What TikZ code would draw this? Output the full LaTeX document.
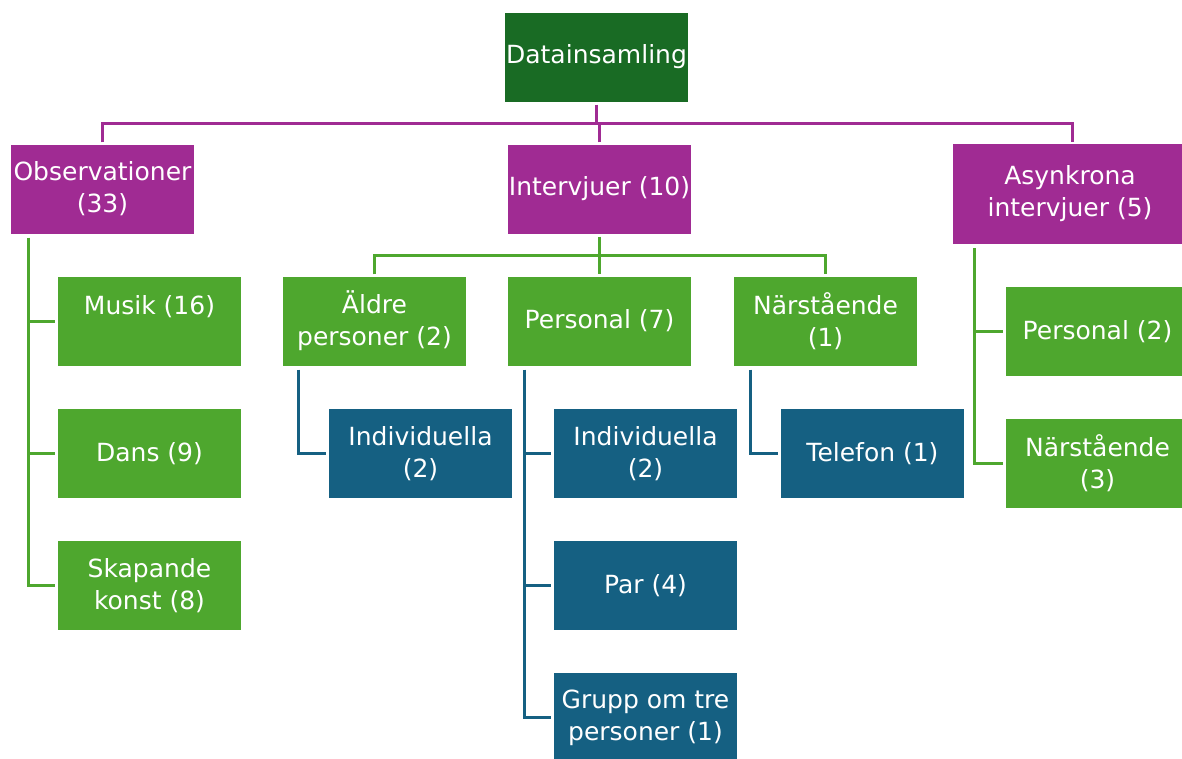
\documentclass[tikz,border=0pt]{standalone}
\usepackage{fontspec}
\setmainfont{DejaVu Sans}
\definecolor{dgreen}{HTML}{196B24}
\definecolor{purp}{HTML}{A02B93}
\definecolor{lgreen}{HTML}{4EA72E}
\definecolor{dblue}{HTML}{156082}
\tikzset{
  box/.style={rectangle, text=white, align=center, inner sep=0pt,
    minimum width=183pt, minimum height=89pt,
    font=\fontsize{25}{32}\selectfont},
  topbox/.style={box, fill=dgreen},
  catbox/.style={box, fill=purp},
  subbox/.style={box, fill=lgreen},
  leafbox/.style={box, fill=dblue},
  pline/.style={draw=purp, line width=3pt},
  gline/.style={draw=lgreen, line width=3pt},
  bline/.style={draw=dblue, line width=3pt},
}
\begin{document}
\begin{tikzpicture}[x=1pt,y=-1pt]
\useasboundingbox (0,0) rectangle (1182,758);
\clip (0,0) rectangle (1182,758);
% top
\node[topbox] (D) at (596.5,57) {Datainsamling};
% categories
\node[catbox] (Obs) at (102.5,189) {Observationer\\(33)};
\node[catbox] (Int) at (599.5,189) {Intervjuer (10)};
\node[catbox, minimum width=234pt, minimum height=100pt] (Asy) at (1070,194) {Asynkrona\\intervjuer (5)};
% observation children
\node[subbox] (Mus) at (149.5,321) {Musik (16)\\ \mbox{}};
\node[subbox] (Dans) at (149.5,453.5) {Dans (9)};
\node[subbox] (Skap) at (149.5,585.5) {Skapande\\konst (8)};
% interview children
\node[subbox] (Ald) at (374.5,321) {Äldre\\personer (2)};
\node[subbox] (Per) at (599.5,321) {Personal (7)};
\node[subbox] (Nar) at (825.5,321) {Närstående\\(1)};
% leaves
\node[leafbox] (IndA) at (420.5,453.5) {Individuella\\(2)};
\node[leafbox] (IndB) at (645.5,453.5) {Individuella\\(2)};
\node[leafbox] (Par) at (645.5,585.5) {Par (4)};
\node[leafbox, minimum height=90pt] (Grp) at (645.5,718) {Grupp om tre\\personer (1)};
\node[leafbox] (Tel) at (872.5,453.5) {Telefon (1)};
% asynchronous children
\node[subbox] (PerB) at (1097.5,331.5) {Personal (2)};
\node[subbox] (NarB) at (1097.5,463.5) {Närstående\\(3)};

% top connectors
\coordinate (bus) at (597,123);
\draw[pline] ([yshift=-3pt]D.south) -- (D.south |- bus);
\draw[pline] ([yshift=2pt]Obs.north) -- (Obs.north |- bus) -- ([xshift=2pt]Asy.north |- bus) -- ([xshift=2pt,yshift=2pt]Asy.north);
\draw[pline] ([yshift=2pt]Int.north) -- (Int.north |- bus);

% observation connectors
\coordinate (ob) at ([xshift=18pt,yshift=-4pt]Obs.south west);
\draw[gline] (ob) |- ([xshift=-3pt]Skap.west);
\draw[gline] (ob |- Mus.west) -- ([xshift=-3pt]Mus.west);
\draw[gline] (ob |- Dans.west) -- ([xshift=-3pt]Dans.west);

% interview connectors
\coordinate (ib) at (599.5,255);
\draw[gline] ([yshift=-3pt]Int.south) -- (Int.south |- ib);
\draw[gline] ([yshift=2pt]Ald.north) -- (Ald.north |- ib) -- (Nar.north |- ib) -- ([yshift=2pt]Nar.north);
\draw[gline] (Per.north |- ib) -- ([yshift=2pt]Per.north);

% leaf connectors
\coordinate (ab) at ([xshift=16pt,yshift=-4pt]Ald.south west);
\draw[bline] (ab) |- ([xshift=-3pt]IndA.west);
\coordinate (pb) at ([xshift=17pt,yshift=-4pt]Per.south west);
\draw[bline] (pb) |- ([xshift=-3pt,yshift=1pt]Grp.west);
\draw[bline] (pb |- IndB.west) -- ([xshift=-3pt]IndB.west);
\draw[bline] (pb |- Par.west) -- ([xshift=-3pt]Par.west);
\coordinate (nb) at ([xshift=17pt,yshift=-4pt]Nar.south west);
\draw[bline] (nb) |- ([xshift=-3pt]Tel.west);

% asynchronous connectors
\coordinate (sb) at ([xshift=22pt,yshift=-4pt]Asy.south west);
\draw[gline] (sb) |- ([xshift=-3pt]NarB.west);
\draw[gline] (sb |- PerB.west) -- ([xshift=-3pt]PerB.west);
\end{tikzpicture}
\end{document}
